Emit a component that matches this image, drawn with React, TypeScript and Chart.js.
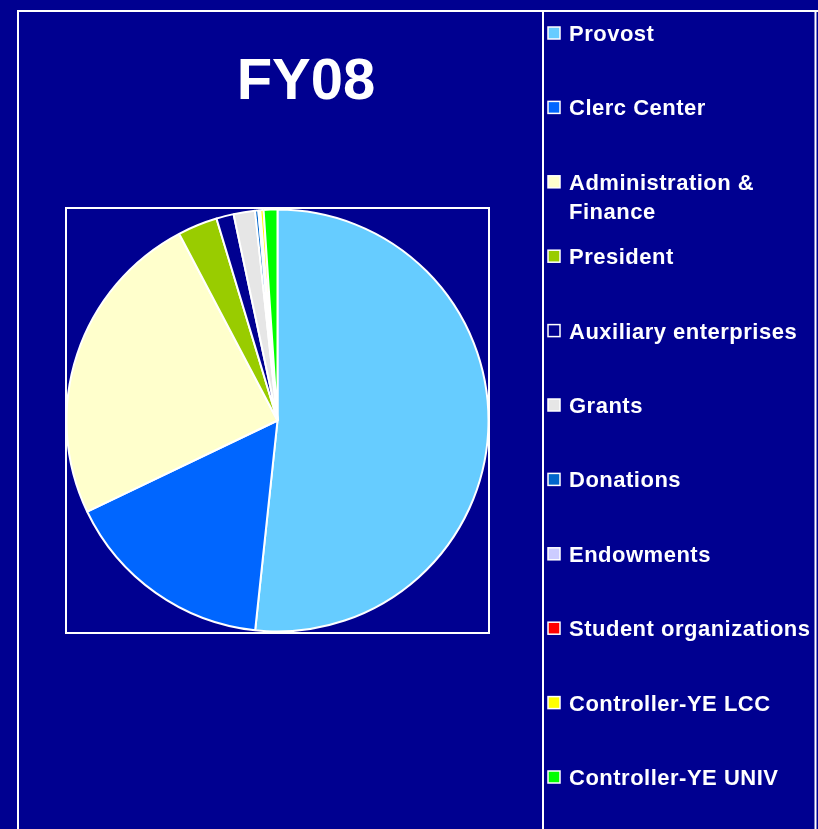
import React, { useEffect, useRef } from "react";
import { Chart, registerables } from "chart.js";

Chart.register(...registerables);

const TITLE = "FY08";
const categories = [
  "Provost",
  "Clerc Center",
  "Administration & Finance",
  "President",
  "Auxiliary enterprises",
  "Grants",
  "Donations",
  "Endowments",
  "Student organizations",
  "Controller-YE LCC",
  "Controller-YE UNIV",
];
const shares = [51.7, 16.2, 24.4, 3.05, 1.33, 1.64, 0.25, 0.1, 0.05, 0.25, 1.05];
const sliceColors = [
  "#66CCFF",
  "#0066FF",
  "#FFFFCC",
  "#99CC00",
  "#000090",
  "#E6E6E6",
  "#0066CC",
  "#CCCCFF",
  "#FF0000",
  "#FFFF00",
  "#00FF00",
];

const BG = "#000090";
const FONT = '"Liberation Sans", Arial, sans-serif';

const framePlugin = {
  id: "frame",
  beforeDraw(chart: any) {
    const { ctx, width, height } = chart;
    ctx.save();
    ctx.fillStyle = BG;
    ctx.fillRect(0, 0, width, height);
    ctx.strokeStyle = "#FFFFFF";
    ctx.lineWidth = 2;
    ctx.beginPath();
    ctx.moveTo(18, height + 5);
    ctx.lineTo(18, 11);
    ctx.lineTo(width + 5, 11);
    ctx.stroke();
    ctx.beginPath();
    ctx.moveTo(543, height + 5);
    ctx.lineTo(543, 11);
    ctx.moveTo(815.5, 11);
    ctx.lineTo(815.5, height + 5);
    ctx.stroke();
    ctx.restore();
  },
  beforeDatasetsDraw(chart: any) {
    const { ctx, chartArea } = chart;
    ctx.save();
    ctx.strokeStyle = "#FFFFFF";
    ctx.lineWidth = 2;
    ctx.strokeRect(chartArea.left, chartArea.top, chartArea.right - chartArea.left, chartArea.bottom - chartArea.top);
    ctx.restore();
  },
  afterDraw(chart: any) {
    const { ctx } = chart;
    ctx.save();
    ctx.fillStyle = "#FFFFFF";
    ctx.font = `bold 58px ${FONT}`;
    ctx.textAlign = "center";
    ctx.textBaseline = "alphabetic";
    ctx.fillText(TITLE, 306, 99);

    const labels: string[] = chart.data.labels;
    const colors: string[] = chart.data.datasets[0].backgroundColor;
    ctx.font = `bold 22px ${FONT}`;
    (ctx as any).letterSpacing = "0.5px";
    ctx.textAlign = "left";
    const textX = 569;
    const maxW = 252;
    labels.forEach((label, i) => {
      const base = 41 + i * 74.4;
      const words = label.split(" ");
      const lines: string[] = [];
      let cur = "";
      words.forEach((w) => {
        const test = cur ? cur + " " + w : w;
        if (ctx.measureText(test).width > maxW && cur) {
          lines.push(cur);
          cur = w;
        } else {
          cur = test;
        }
      });
      if (cur) lines.push(cur);
      ctx.fillStyle = colors[i];
      ctx.fillRect(548, base - 14, 12, 12);
      ctx.strokeStyle = "#FFFFFF";
      ctx.lineWidth = 1.5;
      ctx.strokeRect(548, base - 14, 12, 12);
      ctx.fillStyle = "#FFFFFF";
      lines.forEach((ln, j) => ctx.fillText(ln, textX, base + j * 29));
    });
    ctx.restore();
  },
};

export default function App() {
  const ref = useRef<HTMLCanvasElement>(null);
  useEffect(() => {
    if (!ref.current) return;
    const chart = new Chart(ref.current, {
      type: "pie",
      data: {
        labels: categories,
        datasets: [
          {
            data: shares,
            backgroundColor: sliceColors,
            borderColor: "#FFFFFF",
            borderWidth: 2,
          },
        ],
      },
      options: {
        responsive: false,
        animation: false,
        radius: 211,
        layout: { padding: { left: 66, top: 208, right: 329, bottom: 196 } },
        plugins: {
          legend: { display: false },
          tooltip: { enabled: false },
          title: { display: false },
        },
      } as any,
      plugins: [framePlugin],
    });
    return () => chart.destroy();
  }, []);
  return (
    <div style={{ position: "absolute", left: 0, top: 0, width: 818, height: 829, background: BG }}>
      <canvas ref={ref} width={818} height={829} style={{ display: "block", width: 818, height: 829 }} />
    </div>
  );
}
